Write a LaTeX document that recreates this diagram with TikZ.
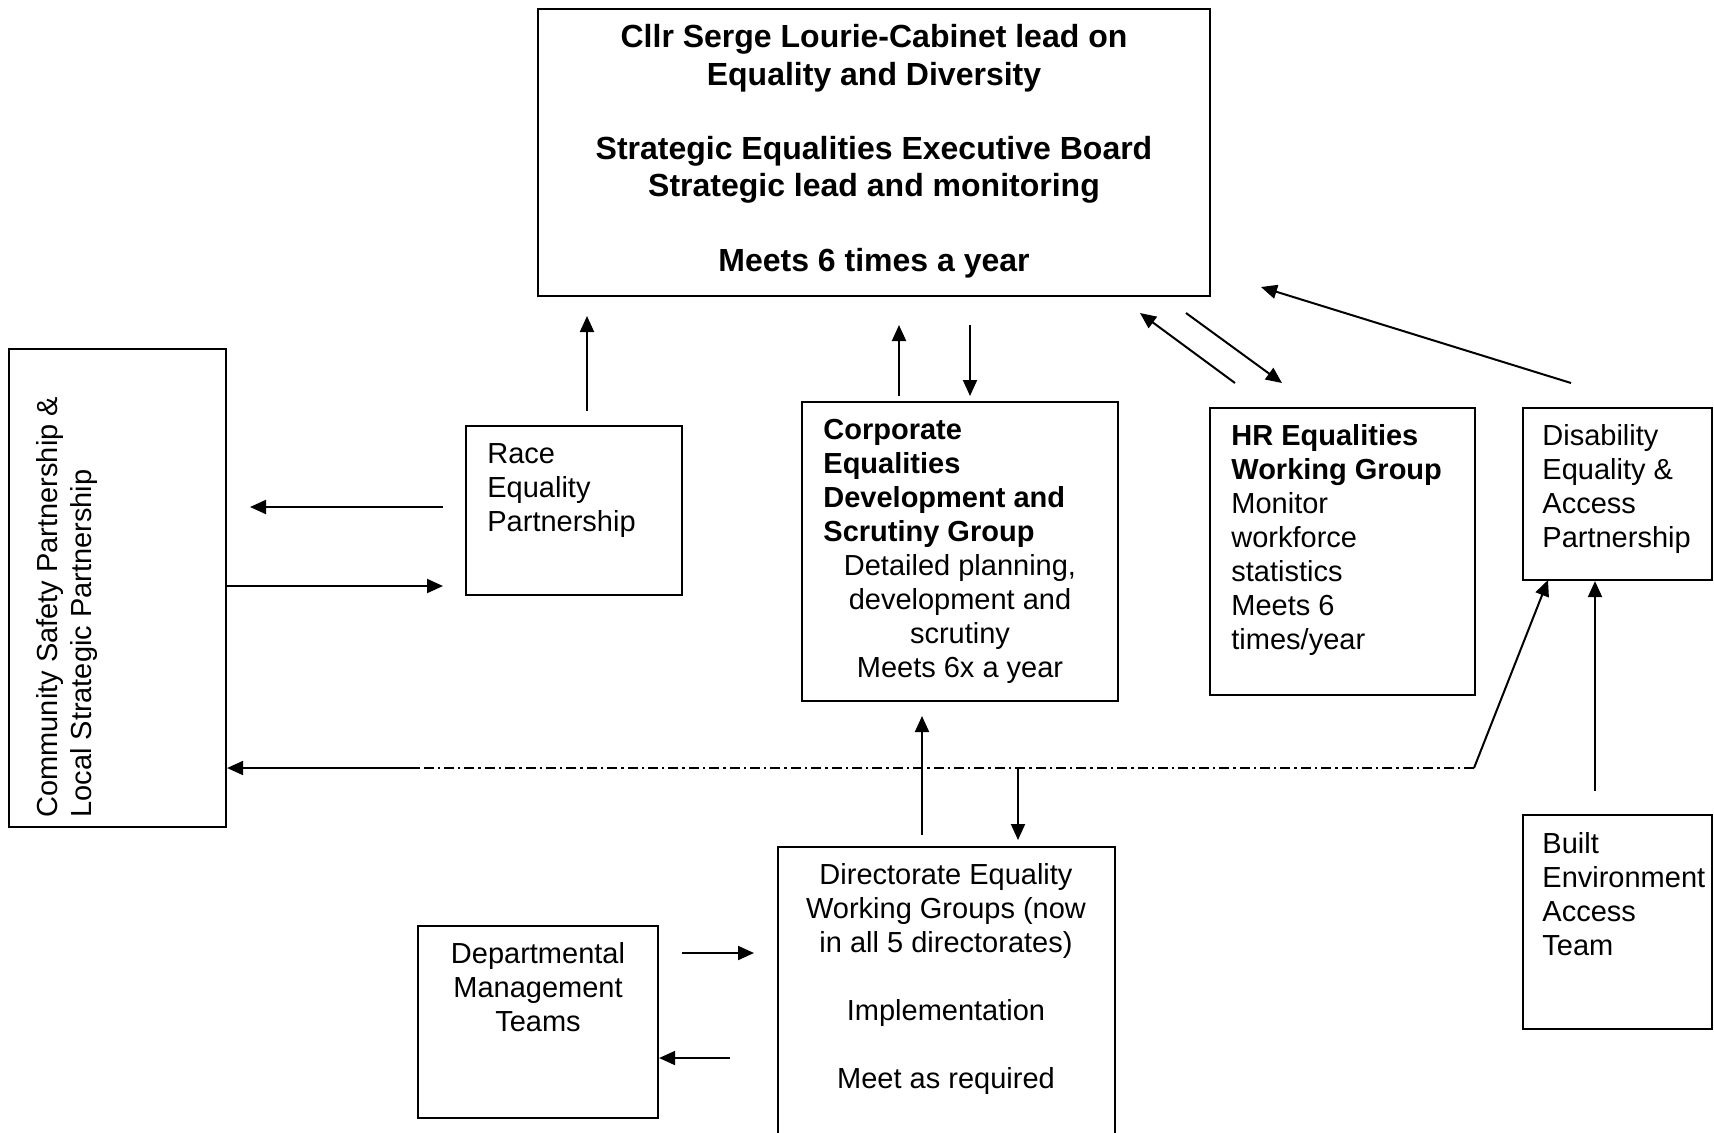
\documentclass[tikz,border=0pt]{standalone}
\usepackage{fontspec}
\setmainfont{Liberation Sans}
\usetikzlibrary{arrows.meta,fit}
\begin{document}
\begin{tikzpicture}[x=0.5pt,y=-0.5pt,
  box/.style={draw, line width=1.1pt, inner sep=0pt},
  txt/.style={font=\fontsize{14.5}{17}\selectfont, inner sep=0pt},
  btxt/.style={font=\fontsize{14.5}{17}\selectfont\bfseries, inner sep=0pt},
  toptxt/.style={font=\fontsize{16}{18.6}\selectfont\bfseries, inner sep=0pt, align=center},
  arr/.style={-{Triangle[length=8pt,width=7pt]}, line width=1pt},
  dashdot/.style={line width=1pt, dash pattern=on 5pt off 2pt on 1.2pt off 2pt}]
\useasboundingbox (0,0) rectangle (1714,1132);
\clip (0,0) rectangle (1714,1132);
\fill[white] (0,0) rectangle (1714,1132);

% boxes
\node[box, fit={(538,9)(1210,296)}] (top) {};
\node[box, fit={(9,349)(226,827)}] (csp) {};
\node[box, fit={(466,426)(682,595)}] (race) {};
\node[box, fit={(802,402)(1118,701)}] (corp) {};
\node[box, fit={(1210,408)(1475,695)}] (hr) {};
\node[box, fit={(1523,408)(1712,580)}] (dis) {};
\node[box, fit={(1523,815)(1712,1029)}] (built) {};
\node[box, fit={(778,847)(1115,1145)}] (dir) {};
\node[box, fit={(418,926)(658,1118)}] (dept) {};

% texts (base anchor = baseline of the last line)
\node[toptxt, anchor=base] (toptext) at (874,271) {Cllr Serge Lourie-Cabinet lead on\\Equality and Diversity\\[18.6pt]Strategic Equalities Executive Board\\Strategic lead and monitoring\\[18.6pt]Meets 6 times a year};
\node[txt, align=left, rotate=90, anchor=base west] (csptext) at (91,818) {Community Safety Partnership \&\\Local Strategic Partnership};
\node[txt, align=left, anchor=base west] (racetext) at (487,531) {Race\\Equality\\Partnership};
\node[btxt, align=left, anchor=base west] (corptitle) at (823,541) {Corporate\\Equalities\\Development and\\Scrutiny Group};
\node[txt, align=center, anchor=base] (corpbody) at (960,677) {Detailed planning,\\development and\\scrutiny\\Meets 6x a year};
\node[txt, align=left, anchor=base west] (hrtext) at (1231,649) {\textbf{HR Equalities}\\\textbf{Working Group}\\Monitor\\workforce\\statistics\\Meets 6\\times/year};
\node[txt, align=left, anchor=base west] (distext) at (1542,547) {Disability\\Equality \&\\Access\\Partnership};
\node[txt, align=left, anchor=base west] (builttext) at (1542,955) {Built\\Environment\\Access\\Team};
\node[txt, align=center, anchor=base] (dirtext) at (946,1088) {Directorate Equality\\Working Groups (now\\in all 5 directorates)\\[17pt]Implementation\\[17pt]Meet as required};
\node[txt, align=center, anchor=base] (depttext) at (538,1031) {Departmental\\Management\\Teams};

% connector end points
\coordinate (rc1) at (443,507); \coordinate (rc2) at (250,507);
\coordinate (cr1) at (226,586); \coordinate (cr2) at (443,586);
\coordinate (rt1) at (587,411); \coordinate (rt2) at (587,316);
\coordinate (cu1) at (899,396); \coordinate (cu2) at (899,325);
\coordinate (cd1) at (970,325); \coordinate (cd2) at (970,396);
\coordinate (hu1) at (1235,383); \coordinate (hu2) at (1140,313);
\coordinate (hd1) at (1186,313); \coordinate (hd2) at (1282,383);
\coordinate (dt1) at (1571,383); \coordinate (dt2) at (1261,287);
\coordinate (bd1) at (1595,791);
\coordinate (dd1) at (1474,768); \coordinate (dd2) at (419,768);
\coordinate (dg2) at (1548,580);
\coordinate (dn1) at (1018,768); \coordinate (dn2) at (1018,840);
\coordinate (dc1) at (922,835); \coordinate (dc2) at (922,716);
\coordinate (pd1) at (682,953); \coordinate (pd2) at (754,953);
\coordinate (dp1) at (730,1058);

% connectors
\draw[arr] (rc1) -- (rc2);
\draw[arr] (cr1) -- (cr2);
\draw[arr] (rt1) -- (rt2);
\draw[arr] (cu1) -- (cu2);
\draw[arr] (cd1) -- (cd2);
\draw[arr] (hu1) -- (hu2);
\draw[arr] (hd1) -- (hd2);
\draw[arr] (dt1) -- (dt2);
\draw[arr] (bd1) -- (bd1 |- dis.south);
\draw[dashdot] (dd1) -- (dd2);
\draw[arr] (dd2) -- (dd2 -| csp.east);
\draw[arr] (dd1) -- (dg2);
\draw[arr] (dn1) -- (dn2);
\draw[arr] (dc1) -- (dc2);
\draw[arr] (pd1) -- (pd2);
\draw[arr] (dp1) -- (dp1 -| dept.east);
\end{tikzpicture}
\end{document}
